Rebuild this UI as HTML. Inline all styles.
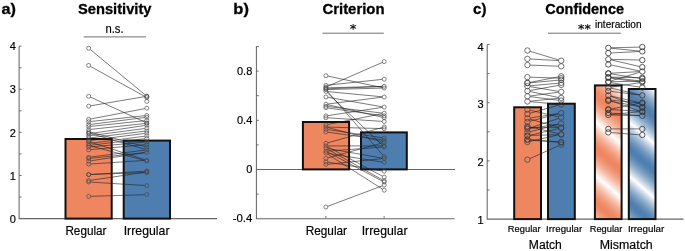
<!DOCTYPE html>
<html><head><meta charset="utf-8"><title>Figure</title>
<style>html,body{margin:0;padding:0;background:#fff;}svg{display:block;}</style></head>
<body>
<svg width="685" height="251" viewBox="0 0 685 251" font-family="'Liberation Sans', sans-serif">
<defs>
<linearGradient id="go" gradientUnits="userSpaceOnUse" x1="596.5" y1="149.2" x2="583.13" y2="164.57" spreadMethod="reflect"><stop offset="0.000" stop-color="#ee8660"/><stop offset="0.100" stop-color="#ee8964"/><stop offset="0.200" stop-color="#ef8f6c"/><stop offset="0.300" stop-color="#f09877"/><stop offset="0.400" stop-color="#f2a285"/><stop offset="0.500" stop-color="#f4ae94"/><stop offset="0.600" stop-color="#f6bba6"/><stop offset="0.700" stop-color="#f8caba"/><stop offset="0.800" stop-color="#fadbcf"/><stop offset="0.900" stop-color="#fcece6"/><stop offset="1.000" stop-color="#ffffff"/></linearGradient>
<linearGradient id="gb" gradientUnits="userSpaceOnUse" x1="629.8" y1="149.5" x2="616.43" y2="164.87" spreadMethod="reflect"><stop offset="0.000" stop-color="#4e7eaf"/><stop offset="0.100" stop-color="#5281b1"/><stop offset="0.200" stop-color="#5b88b5"/><stop offset="0.300" stop-color="#6891bb"/><stop offset="0.400" stop-color="#779cc1"/><stop offset="0.500" stop-color="#88a9c9"/><stop offset="0.600" stop-color="#9cb7d2"/><stop offset="0.700" stop-color="#b2c7dc"/><stop offset="0.800" stop-color="#cad8e7"/><stop offset="0.900" stop-color="#e4ebf3"/><stop offset="1.000" stop-color="#ffffff"/></linearGradient>
</defs>
<rect width="685" height="251" fill="#fff"/>
<text x="1.5" y="14.3" font-size="15.5" font-weight="bold" text-anchor="start" fill="#000" textLength="14.5" lengthAdjust="spacingAndGlyphs" stroke="#000" stroke-width="0.3">a)</text>
<text x="77.9" y="14.3" font-size="15" font-weight="bold" text-anchor="start" fill="#000" textLength="73.6" lengthAdjust="spacingAndGlyphs" stroke="#000" stroke-width="0.3">Sensitivity</text>
<text x="105.5" y="33.4" font-size="12.5" font-weight="normal" text-anchor="start" fill="#000" textLength="18.1" lengthAdjust="spacingAndGlyphs" stroke="#000" stroke-width="0.18">n.s.</text>
<line x1="83.7" y1="36.9" x2="146" y2="36.9" stroke="#707070" stroke-width="1"/>
<polyline points="19.1,46.2 19.1,218.6 217,218.6" fill="none" stroke="#666" stroke-width="1.05"/>
<line x1="19.1" y1="197.0" x2="21.6" y2="197.0" stroke="#555" stroke-width="0.8"/>
<line x1="19.1" y1="175.5" x2="21.6" y2="175.5" stroke="#555" stroke-width="0.8"/>
<line x1="19.1" y1="153.9" x2="21.6" y2="153.9" stroke="#555" stroke-width="0.8"/>
<line x1="19.1" y1="132.4" x2="21.6" y2="132.4" stroke="#555" stroke-width="0.8"/>
<line x1="19.1" y1="110.8" x2="21.6" y2="110.8" stroke="#555" stroke-width="0.8"/>
<line x1="19.1" y1="89.3" x2="21.6" y2="89.3" stroke="#555" stroke-width="0.8"/>
<line x1="19.1" y1="67.8" x2="21.6" y2="67.8" stroke="#555" stroke-width="0.8"/>
<line x1="19.1" y1="46.2" x2="21.6" y2="46.2" stroke="#555" stroke-width="0.8"/>
<text x="15.9" y="222.7" font-size="11" font-weight="normal" text-anchor="end" fill="#000" stroke="#000" stroke-width="0.18">0</text>
<text x="15.9" y="179.6" font-size="11" font-weight="normal" text-anchor="end" fill="#000" stroke="#000" stroke-width="0.18">1</text>
<text x="15.9" y="136.49999999999997" font-size="11" font-weight="normal" text-anchor="end" fill="#000" stroke="#000" stroke-width="0.18">2</text>
<text x="15.9" y="93.39999999999998" font-size="11" font-weight="normal" text-anchor="end" fill="#000" stroke="#000" stroke-width="0.18">3</text>
<text x="15.9" y="50.29999999999999" font-size="11" font-weight="normal" text-anchor="end" fill="#000" stroke="#000" stroke-width="0.18">4</text>
<rect x="65.50" y="139.00" width="46.20" height="79.60" fill="#EE8660" stroke="#111" stroke-width="2.0"/>
<rect x="123.70" y="140.60" width="46.30" height="78.00" fill="#4E7EAF" stroke="#111" stroke-width="2.0"/>
<line x1="90.2" y1="49.5" x2="145.3" y2="94.9" stroke="#222" stroke-width="0.6"/>
<line x1="90.4" y1="66.4" x2="145.1" y2="96.6" stroke="#222" stroke-width="0.6"/>
<line x1="90.5" y1="97.1" x2="145.0" y2="122.2" stroke="#222" stroke-width="0.6"/>
<line x1="90.7" y1="105.8" x2="144.8" y2="96.6" stroke="#222" stroke-width="0.6"/>
<line x1="90.7" y1="119.0" x2="144.8" y2="108.6" stroke="#222" stroke-width="0.6"/>
<line x1="90.7" y1="121.5" x2="144.8" y2="115.7" stroke="#222" stroke-width="0.6"/>
<line x1="90.7" y1="124.4" x2="144.8" y2="117.5" stroke="#222" stroke-width="0.6"/>
<line x1="90.7" y1="126.4" x2="144.8" y2="120.7" stroke="#222" stroke-width="0.6"/>
<line x1="90.7" y1="129.4" x2="144.8" y2="123.5" stroke="#222" stroke-width="0.6"/>
<line x1="90.7" y1="133.5" x2="144.8" y2="125.5" stroke="#222" stroke-width="0.6"/>
<line x1="90.7" y1="135.6" x2="144.8" y2="128.5" stroke="#222" stroke-width="0.6"/>
<line x1="90.7" y1="137.8" x2="144.8" y2="131.2" stroke="#222" stroke-width="0.6"/>
<line x1="90.7" y1="140.4" x2="144.8" y2="133.4" stroke="#222" stroke-width="0.6"/>
<line x1="90.7" y1="143.3" x2="144.8" y2="136.2" stroke="#222" stroke-width="0.6"/>
<line x1="90.7" y1="145.2" x2="144.8" y2="138.7" stroke="#222" stroke-width="0.6"/>
<line x1="90.7" y1="146.9" x2="144.8" y2="142.1" stroke="#222" stroke-width="0.6"/>
<line x1="90.7" y1="149.6" x2="144.8" y2="144.7" stroke="#222" stroke-width="0.6"/>
<line x1="90.6" y1="132.2" x2="144.9" y2="146.6" stroke="#222" stroke-width="0.6"/>
<line x1="90.6" y1="133.6" x2="144.9" y2="149.2" stroke="#222" stroke-width="0.6"/>
<line x1="90.7" y1="157.0" x2="144.8" y2="150.1" stroke="#222" stroke-width="0.6"/>
<line x1="90.7" y1="158.3" x2="144.8" y2="152.6" stroke="#222" stroke-width="0.6"/>
<line x1="90.7" y1="160.8" x2="144.8" y2="152.7" stroke="#222" stroke-width="0.6"/>
<line x1="90.7" y1="164.0" x2="144.8" y2="160.4" stroke="#222" stroke-width="0.6"/>
<line x1="90.6" y1="142.1" x2="144.9" y2="159.7" stroke="#222" stroke-width="0.6"/>
<line x1="90.6" y1="145.9" x2="144.9" y2="160.5" stroke="#222" stroke-width="0.6"/>
<line x1="90.7" y1="174.5" x2="144.8" y2="171.2" stroke="#222" stroke-width="0.6"/>
<line x1="90.7" y1="174.4" x2="144.8" y2="172.6" stroke="#222" stroke-width="0.6"/>
<line x1="90.7" y1="180.3" x2="144.8" y2="172.3" stroke="#222" stroke-width="0.6"/>
<line x1="90.7" y1="182.1" x2="144.8" y2="185.5" stroke="#222" stroke-width="0.6"/>
<line x1="90.7" y1="196.3" x2="144.8" y2="194.7" stroke="#222" stroke-width="0.6"/>
<circle cx="88.7" cy="48.2" r="2.0" fill="none" stroke="#444" stroke-width="0.65"/>
<circle cx="88.7" cy="65.4" r="2.0" fill="none" stroke="#444" stroke-width="0.65"/>
<circle cx="88.7" cy="96.3" r="2.0" fill="none" stroke="#444" stroke-width="0.65"/>
<circle cx="88.7" cy="106.1" r="2.0" fill="none" stroke="#444" stroke-width="0.65"/>
<circle cx="88.7" cy="119.4" r="2.0" fill="none" stroke="#444" stroke-width="0.65"/>
<circle cx="88.7" cy="121.7" r="2.0" fill="none" stroke="#444" stroke-width="0.65"/>
<circle cx="88.7" cy="124.6" r="2.0" fill="none" stroke="#444" stroke-width="0.65"/>
<circle cx="88.7" cy="126.6" r="2.0" fill="none" stroke="#444" stroke-width="0.65"/>
<circle cx="88.7" cy="129.6" r="2.0" fill="none" stroke="#444" stroke-width="0.65"/>
<circle cx="88.7" cy="131.7" r="2.0" fill="none" stroke="#444" stroke-width="0.65"/>
<circle cx="88.7" cy="133.0" r="2.0" fill="none" stroke="#444" stroke-width="0.65"/>
<circle cx="88.7" cy="133.8" r="2.0" fill="none" stroke="#444" stroke-width="0.65"/>
<circle cx="88.7" cy="135.9" r="2.0" fill="none" stroke="#444" stroke-width="0.65"/>
<circle cx="88.7" cy="138.0" r="2.0" fill="none" stroke="#444" stroke-width="0.65"/>
<circle cx="88.7" cy="140.7" r="2.0" fill="none" stroke="#444" stroke-width="0.65"/>
<circle cx="88.7" cy="141.5" r="2.0" fill="none" stroke="#444" stroke-width="0.65"/>
<circle cx="88.7" cy="143.6" r="2.0" fill="none" stroke="#444" stroke-width="0.65"/>
<circle cx="88.7" cy="145.4" r="2.0" fill="none" stroke="#444" stroke-width="0.65"/>
<circle cx="88.7" cy="147.1" r="2.0" fill="none" stroke="#444" stroke-width="0.65"/>
<circle cx="88.7" cy="149.8" r="2.0" fill="none" stroke="#444" stroke-width="0.65"/>
<circle cx="88.7" cy="157.3" r="2.0" fill="none" stroke="#444" stroke-width="0.65"/>
<circle cx="88.7" cy="158.5" r="2.0" fill="none" stroke="#444" stroke-width="0.65"/>
<circle cx="88.7" cy="161.1" r="2.0" fill="none" stroke="#444" stroke-width="0.65"/>
<circle cx="88.7" cy="164.1" r="2.0" fill="none" stroke="#444" stroke-width="0.65"/>
<circle cx="88.7" cy="174.5" r="2.0" fill="none" stroke="#444" stroke-width="0.65"/>
<circle cx="88.7" cy="174.6" r="2.0" fill="none" stroke="#444" stroke-width="0.65"/>
<circle cx="88.7" cy="180.6" r="2.0" fill="none" stroke="#444" stroke-width="0.65"/>
<circle cx="88.7" cy="182.0" r="2.0" fill="none" stroke="#444" stroke-width="0.65"/>
<circle cx="88.7" cy="196.4" r="2.0" fill="none" stroke="#444" stroke-width="0.65"/>
<circle cx="146.8" cy="96.2" r="2.0" fill="none" stroke="#444" stroke-width="0.65"/>
<circle cx="146.8" cy="96.3" r="2.0" fill="none" stroke="#444" stroke-width="0.65"/>
<circle cx="146.8" cy="97.6" r="2.0" fill="none" stroke="#444" stroke-width="0.65"/>
<circle cx="146.8" cy="108.2" r="2.0" fill="none" stroke="#444" stroke-width="0.65"/>
<circle cx="146.8" cy="115.5" r="2.0" fill="none" stroke="#444" stroke-width="0.65"/>
<circle cx="146.8" cy="117.3" r="2.0" fill="none" stroke="#444" stroke-width="0.65"/>
<circle cx="146.8" cy="120.5" r="2.0" fill="none" stroke="#444" stroke-width="0.65"/>
<circle cx="146.8" cy="123.0" r="2.0" fill="none" stroke="#444" stroke-width="0.65"/>
<circle cx="146.8" cy="123.3" r="2.0" fill="none" stroke="#444" stroke-width="0.65"/>
<circle cx="146.8" cy="125.2" r="2.0" fill="none" stroke="#444" stroke-width="0.65"/>
<circle cx="146.8" cy="128.2" r="2.0" fill="none" stroke="#444" stroke-width="0.65"/>
<circle cx="146.8" cy="131.0" r="2.0" fill="none" stroke="#444" stroke-width="0.65"/>
<circle cx="146.8" cy="133.1" r="2.0" fill="none" stroke="#444" stroke-width="0.65"/>
<circle cx="146.8" cy="135.9" r="2.0" fill="none" stroke="#444" stroke-width="0.65"/>
<circle cx="146.8" cy="138.5" r="2.0" fill="none" stroke="#444" stroke-width="0.65"/>
<circle cx="146.8" cy="141.9" r="2.0" fill="none" stroke="#444" stroke-width="0.65"/>
<circle cx="146.8" cy="144.5" r="2.0" fill="none" stroke="#444" stroke-width="0.65"/>
<circle cx="146.8" cy="147.1" r="2.0" fill="none" stroke="#444" stroke-width="0.65"/>
<circle cx="146.8" cy="149.8" r="2.0" fill="none" stroke="#444" stroke-width="0.65"/>
<circle cx="146.8" cy="152.4" r="2.0" fill="none" stroke="#444" stroke-width="0.65"/>
<circle cx="146.8" cy="160.3" r="2.0" fill="none" stroke="#444" stroke-width="0.65"/>
<circle cx="146.8" cy="161.0" r="2.0" fill="none" stroke="#444" stroke-width="0.65"/>
<circle cx="146.8" cy="171.1" r="2.0" fill="none" stroke="#444" stroke-width="0.65"/>
<circle cx="146.8" cy="172.0" r="2.0" fill="none" stroke="#444" stroke-width="0.65"/>
<circle cx="146.8" cy="172.5" r="2.0" fill="none" stroke="#444" stroke-width="0.65"/>
<circle cx="146.8" cy="185.6" r="2.0" fill="none" stroke="#444" stroke-width="0.65"/>
<circle cx="146.8" cy="194.6" r="2.0" fill="none" stroke="#444" stroke-width="0.65"/>
<circle cx="146.8" cy="101.4" r="2.0" fill="none" stroke="#444" stroke-width="0.65"/>
<text x="65.4" y="235" font-size="12.2" font-weight="normal" text-anchor="start" fill="#000" textLength="41.1" lengthAdjust="spacingAndGlyphs" stroke="#000" stroke-width="0.18">Regular</text>
<text x="123.7" y="235" font-size="12.2" font-weight="normal" text-anchor="start" fill="#000" textLength="45.8" lengthAdjust="spacingAndGlyphs" stroke="#000" stroke-width="0.18">Irregular</text>
<text x="233.3" y="14.1" font-size="15.5" font-weight="bold" text-anchor="start" fill="#000" textLength="15.6" lengthAdjust="spacingAndGlyphs" stroke="#000" stroke-width="0.3">b)</text>
<text x="322.5" y="14.1" font-size="15" font-weight="bold" text-anchor="start" fill="#000" textLength="62" lengthAdjust="spacingAndGlyphs" stroke="#000" stroke-width="0.3">Criterion</text>
<text x="353.0" y="33.0" font-size="12.5" font-weight="normal" text-anchor="middle" fill="#000" font-family="'DejaVu Sans', sans-serif" stroke="#000" stroke-width="0.18">*</text>
<line x1="322.5" y1="33.2" x2="383.8" y2="33.2" stroke="#707070" stroke-width="1"/>
<polyline points="256.4,46.5 256.4,218.8 454.5,218.8" fill="none" stroke="#666" stroke-width="1.05"/>
<line x1="256.4" y1="169.5" x2="455" y2="169.5" stroke="#666" stroke-width="1.05"/>
<line x1="256.4" y1="194.1" x2="258.9" y2="194.1" stroke="#555" stroke-width="0.8"/>
<line x1="256.4" y1="144.9" x2="258.9" y2="144.9" stroke="#555" stroke-width="0.8"/>
<line x1="256.4" y1="120.3" x2="258.9" y2="120.3" stroke="#555" stroke-width="0.8"/>
<line x1="256.4" y1="95.7" x2="258.9" y2="95.7" stroke="#555" stroke-width="0.8"/>
<line x1="256.4" y1="71.1" x2="258.9" y2="71.1" stroke="#555" stroke-width="0.8"/>
<line x1="256.4" y1="46.5" x2="258.9" y2="46.5" stroke="#555" stroke-width="0.8"/>
<line x1="325.9" y1="218.8" x2="325.9" y2="216" stroke="#666" stroke-width="0.8"/>
<line x1="384.1" y1="218.8" x2="384.1" y2="216" stroke="#666" stroke-width="0.8"/>
<text x="252.3" y="74.8" font-size="11" font-weight="normal" text-anchor="end" fill="#000" textLength="15.3" lengthAdjust="spacingAndGlyphs" stroke="#000" stroke-width="0.18">0.8</text>
<text x="252.3" y="124.0" font-size="11" font-weight="normal" text-anchor="end" fill="#000" textLength="15.3" lengthAdjust="spacingAndGlyphs" stroke="#000" stroke-width="0.18">0.4</text>
<text x="252.3" y="173.3" font-size="11" font-weight="normal" text-anchor="end" fill="#000" stroke="#000" stroke-width="0.18">0</text>
<text x="252.4" y="222.29999999999998" font-size="11" font-weight="normal" text-anchor="end" fill="#000" textLength="19.7" lengthAdjust="spacingAndGlyphs" stroke="#000" stroke-width="0.18">-0.4</text>
<rect x="302.90" y="122.00" width="46.20" height="47.40" fill="#EE8660" stroke="#111" stroke-width="2.0"/>
<rect x="361.00" y="132.40" width="45.80" height="37.00" fill="#4E7EAF" stroke="#111" stroke-width="2.0"/>
<line x1="327.9" y1="76.1" x2="382.2" y2="87.6" stroke="#222" stroke-width="0.6"/>
<line x1="327.7" y1="86.3" x2="382.4" y2="62.4" stroke="#222" stroke-width="0.6"/>
<line x1="327.9" y1="85.1" x2="382.2" y2="79.4" stroke="#222" stroke-width="0.6"/>
<line x1="327.9" y1="87.8" x2="382.2" y2="86.4" stroke="#222" stroke-width="0.6"/>
<line x1="327.9" y1="88.8" x2="382.2" y2="86.4" stroke="#222" stroke-width="0.6"/>
<line x1="327.9" y1="89.5" x2="382.2" y2="88.1" stroke="#222" stroke-width="0.6"/>
<line x1="327.9" y1="91.6" x2="382.2" y2="96.8" stroke="#222" stroke-width="0.6"/>
<line x1="327.2" y1="91.1" x2="382.9" y2="155.1" stroke="#222" stroke-width="0.6"/>
<line x1="327.3" y1="92.8" x2="382.8" y2="145.6" stroke="#222" stroke-width="0.6"/>
<line x1="327.9" y1="97.3" x2="382.2" y2="106.8" stroke="#222" stroke-width="0.6"/>
<line x1="327.9" y1="104.0" x2="382.2" y2="97.2" stroke="#222" stroke-width="0.6"/>
<line x1="327.9" y1="106.5" x2="382.2" y2="113.1" stroke="#222" stroke-width="0.6"/>
<line x1="327.9" y1="108.0" x2="382.2" y2="115.6" stroke="#222" stroke-width="0.6"/>
<line x1="327.8" y1="104.7" x2="382.3" y2="117.2" stroke="#222" stroke-width="0.6"/>
<line x1="327.9" y1="115.6" x2="382.2" y2="107.4" stroke="#222" stroke-width="0.6"/>
<line x1="327.9" y1="117.8" x2="382.2" y2="121.4" stroke="#222" stroke-width="0.6"/>
<line x1="327.9" y1="124.5" x2="382.2" y2="113.7" stroke="#222" stroke-width="0.6"/>
<line x1="327.9" y1="127.1" x2="382.2" y2="128.6" stroke="#222" stroke-width="0.6"/>
<line x1="327.9" y1="129.6" x2="382.2" y2="137.7" stroke="#222" stroke-width="0.6"/>
<line x1="327.9" y1="132.2" x2="382.2" y2="139.8" stroke="#222" stroke-width="0.6"/>
<line x1="327.8" y1="127.5" x2="382.3" y2="141.9" stroke="#222" stroke-width="0.6"/>
<line x1="327.8" y1="142.8" x2="382.3" y2="127.5" stroke="#222" stroke-width="0.6"/>
<line x1="327.9" y1="145.9" x2="382.2" y2="145.9" stroke="#222" stroke-width="0.6"/>
<line x1="327.9" y1="148.5" x2="382.2" y2="158.1" stroke="#222" stroke-width="0.6"/>
<line x1="327.9" y1="151.1" x2="382.2" y2="147.1" stroke="#222" stroke-width="0.6"/>
<line x1="327.9" y1="153.4" x2="382.2" y2="162.1" stroke="#222" stroke-width="0.6"/>
<line x1="327.8" y1="157.9" x2="382.3" y2="142.9" stroke="#222" stroke-width="0.6"/>
<line x1="327.9" y1="162.2" x2="382.2" y2="170.9" stroke="#222" stroke-width="0.6"/>
<line x1="327.9" y1="164.3" x2="382.2" y2="158.6" stroke="#222" stroke-width="0.6"/>
<line x1="327.7" y1="146.8" x2="382.4" y2="176.2" stroke="#222" stroke-width="0.6"/>
<line x1="327.6" y1="149.2" x2="382.5" y2="179.9" stroke="#222" stroke-width="0.6"/>
<line x1="327.7" y1="152.1" x2="382.4" y2="181.1" stroke="#222" stroke-width="0.6"/>
<line x1="327.6" y1="154.2" x2="382.5" y2="189.1" stroke="#222" stroke-width="0.6"/>
<line x1="327.8" y1="206.3" x2="382.3" y2="185.8" stroke="#222" stroke-width="0.6"/>
<circle cx="325.9" cy="75.7" r="2.0" fill="none" stroke="#444" stroke-width="0.65"/>
<circle cx="325.9" cy="85.3" r="2.0" fill="none" stroke="#444" stroke-width="0.65"/>
<circle cx="325.9" cy="87.1" r="2.0" fill="none" stroke="#444" stroke-width="0.65"/>
<circle cx="325.9" cy="87.9" r="2.0" fill="none" stroke="#444" stroke-width="0.65"/>
<circle cx="325.9" cy="88.9" r="2.0" fill="none" stroke="#444" stroke-width="0.65"/>
<circle cx="325.9" cy="89.6" r="2.0" fill="none" stroke="#444" stroke-width="0.65"/>
<circle cx="325.9" cy="91.4" r="2.0" fill="none" stroke="#444" stroke-width="0.65"/>
<circle cx="325.9" cy="97.0" r="2.0" fill="none" stroke="#444" stroke-width="0.65"/>
<circle cx="325.9" cy="104.2" r="2.0" fill="none" stroke="#444" stroke-width="0.65"/>
<circle cx="325.9" cy="106.3" r="2.0" fill="none" stroke="#444" stroke-width="0.65"/>
<circle cx="325.9" cy="107.7" r="2.0" fill="none" stroke="#444" stroke-width="0.65"/>
<circle cx="325.9" cy="115.9" r="2.0" fill="none" stroke="#444" stroke-width="0.65"/>
<circle cx="325.9" cy="117.7" r="2.0" fill="none" stroke="#444" stroke-width="0.65"/>
<circle cx="325.9" cy="124.9" r="2.0" fill="none" stroke="#444" stroke-width="0.65"/>
<circle cx="325.9" cy="127.0" r="2.0" fill="none" stroke="#444" stroke-width="0.65"/>
<circle cx="325.9" cy="129.3" r="2.0" fill="none" stroke="#444" stroke-width="0.65"/>
<circle cx="325.9" cy="131.9" r="2.0" fill="none" stroke="#444" stroke-width="0.65"/>
<circle cx="325.9" cy="143.3" r="2.0" fill="none" stroke="#444" stroke-width="0.65"/>
<circle cx="325.9" cy="145.9" r="2.0" fill="none" stroke="#444" stroke-width="0.65"/>
<circle cx="325.9" cy="148.2" r="2.0" fill="none" stroke="#444" stroke-width="0.65"/>
<circle cx="325.9" cy="151.2" r="2.0" fill="none" stroke="#444" stroke-width="0.65"/>
<circle cx="325.9" cy="153.1" r="2.0" fill="none" stroke="#444" stroke-width="0.65"/>
<circle cx="325.9" cy="158.4" r="2.0" fill="none" stroke="#444" stroke-width="0.65"/>
<circle cx="325.9" cy="161.9" r="2.0" fill="none" stroke="#444" stroke-width="0.65"/>
<circle cx="325.9" cy="164.5" r="2.0" fill="none" stroke="#444" stroke-width="0.65"/>
<circle cx="325.9" cy="207.0" r="2.0" fill="none" stroke="#444" stroke-width="0.65"/>
<circle cx="384.2" cy="61.6" r="2.0" fill="none" stroke="#444" stroke-width="0.65"/>
<circle cx="384.2" cy="79.2" r="2.0" fill="none" stroke="#444" stroke-width="0.65"/>
<circle cx="384.2" cy="86.3" r="2.0" fill="none" stroke="#444" stroke-width="0.65"/>
<circle cx="384.2" cy="88.0" r="2.0" fill="none" stroke="#444" stroke-width="0.65"/>
<circle cx="384.2" cy="97.0" r="2.0" fill="none" stroke="#444" stroke-width="0.65"/>
<circle cx="384.2" cy="107.1" r="2.0" fill="none" stroke="#444" stroke-width="0.65"/>
<circle cx="384.2" cy="113.3" r="2.0" fill="none" stroke="#444" stroke-width="0.65"/>
<circle cx="384.2" cy="115.9" r="2.0" fill="none" stroke="#444" stroke-width="0.65"/>
<circle cx="384.2" cy="117.7" r="2.0" fill="none" stroke="#444" stroke-width="0.65"/>
<circle cx="384.2" cy="121.5" r="2.0" fill="none" stroke="#444" stroke-width="0.65"/>
<circle cx="384.2" cy="127.0" r="2.0" fill="none" stroke="#444" stroke-width="0.65"/>
<circle cx="384.2" cy="128.7" r="2.0" fill="none" stroke="#444" stroke-width="0.65"/>
<circle cx="384.2" cy="138.0" r="2.0" fill="none" stroke="#444" stroke-width="0.65"/>
<circle cx="384.2" cy="140.1" r="2.0" fill="none" stroke="#444" stroke-width="0.65"/>
<circle cx="384.2" cy="142.4" r="2.0" fill="none" stroke="#444" stroke-width="0.65"/>
<circle cx="384.2" cy="145.9" r="2.0" fill="none" stroke="#444" stroke-width="0.65"/>
<circle cx="384.2" cy="147.0" r="2.0" fill="none" stroke="#444" stroke-width="0.65"/>
<circle cx="384.2" cy="156.6" r="2.0" fill="none" stroke="#444" stroke-width="0.65"/>
<circle cx="384.2" cy="158.4" r="2.0" fill="none" stroke="#444" stroke-width="0.65"/>
<circle cx="384.2" cy="162.4" r="2.0" fill="none" stroke="#444" stroke-width="0.65"/>
<circle cx="384.2" cy="171.2" r="2.0" fill="none" stroke="#444" stroke-width="0.65"/>
<circle cx="384.2" cy="177.1" r="2.0" fill="none" stroke="#444" stroke-width="0.65"/>
<circle cx="384.2" cy="180.9" r="2.0" fill="none" stroke="#444" stroke-width="0.65"/>
<circle cx="384.2" cy="182.0" r="2.0" fill="none" stroke="#444" stroke-width="0.65"/>
<circle cx="384.2" cy="185.1" r="2.0" fill="none" stroke="#444" stroke-width="0.65"/>
<circle cx="384.2" cy="190.2" r="2.0" fill="none" stroke="#444" stroke-width="0.65"/>
<text x="305.7" y="235" font-size="12.2" font-weight="normal" text-anchor="start" fill="#000" textLength="41.3" lengthAdjust="spacingAndGlyphs" stroke="#000" stroke-width="0.18">Regular</text>
<text x="361.7" y="235" font-size="12.2" font-weight="normal" text-anchor="start" fill="#000" textLength="45.8" lengthAdjust="spacingAndGlyphs" stroke="#000" stroke-width="0.18">Irregular</text>
<text x="473.1" y="14.1" font-size="15.5" font-weight="bold" text-anchor="start" fill="#000" textLength="13.3" lengthAdjust="spacingAndGlyphs" stroke="#000" stroke-width="0.3">c)</text>
<text x="545.3" y="14.2" font-size="15" font-weight="bold" text-anchor="start" fill="#000" textLength="78.7" lengthAdjust="spacingAndGlyphs" stroke="#000" stroke-width="0.3">Confidence</text>
<text x="578.1" y="32.6" font-size="12.5" font-weight="normal" text-anchor="start" fill="#000" textLength="12.7" lengthAdjust="spacingAndGlyphs" font-family="'DejaVu Sans', sans-serif" stroke="#000" stroke-width="0.18">**</text>
<text x="595" y="28.2" font-size="10.2" font-weight="normal" text-anchor="start" fill="#000" textLength="46.6" lengthAdjust="spacingAndGlyphs" stroke="#000" stroke-width="0.18">interaction</text>
<line x1="548" y1="33.2" x2="620.9" y2="33.2" stroke="#707070" stroke-width="1"/>
<polyline points="487.2,44.5 487.2,219.1 683.5,219.1" fill="none" stroke="#666" stroke-width="1.05"/>
<line x1="487.2" y1="190.0" x2="489.7" y2="190.0" stroke="#555" stroke-width="0.8"/>
<line x1="487.2" y1="160.9" x2="489.7" y2="160.9" stroke="#555" stroke-width="0.8"/>
<line x1="487.2" y1="131.8" x2="489.7" y2="131.8" stroke="#555" stroke-width="0.8"/>
<line x1="487.2" y1="102.7" x2="489.7" y2="102.7" stroke="#555" stroke-width="0.8"/>
<line x1="487.2" y1="73.6" x2="489.7" y2="73.6" stroke="#555" stroke-width="0.8"/>
<line x1="487.2" y1="44.5" x2="489.7" y2="44.5" stroke="#555" stroke-width="0.8"/>
<text x="483.6" y="50.5" font-size="11" font-weight="normal" text-anchor="end" fill="#000" stroke="#000" stroke-width="0.18">4</text>
<text x="483.6" y="108.10000000000001" font-size="11" font-weight="normal" text-anchor="end" fill="#000" stroke="#000" stroke-width="0.18">3</text>
<text x="483.6" y="165.70000000000002" font-size="11" font-weight="normal" text-anchor="end" fill="#000" stroke="#000" stroke-width="0.18">2</text>
<text x="483.6" y="223.6" font-size="11" font-weight="normal" text-anchor="end" fill="#000" stroke="#000" stroke-width="0.18">1</text>
<rect x="514.20" y="107.30" width="26.80" height="111.80" fill="#EE8660" stroke="#111" stroke-width="2.0"/>
<rect x="548.00" y="103.70" width="26.80" height="115.40" fill="#4E7EAF" stroke="#111" stroke-width="2.0"/>
<rect x="594.90" y="85.40" width="26.70" height="133.70" fill="url(#go)" stroke="#111" stroke-width="2.0"/>
<rect x="628.80" y="89.00" width="26.70" height="130.10" fill="url(#gb)" stroke="#111" stroke-width="2.0"/>
<line x1="530.0" y1="51.3" x2="558.6" y2="59.9" stroke="#222" stroke-width="0.6"/>
<line x1="530.1" y1="59.0" x2="558.5" y2="60.6" stroke="#222" stroke-width="0.6"/>
<line x1="530.1" y1="65.1" x2="558.5" y2="66.2" stroke="#222" stroke-width="0.6"/>
<line x1="530.1" y1="77.2" x2="558.5" y2="78.1" stroke="#222" stroke-width="0.6"/>
<line x1="530.0" y1="82.4" x2="558.6" y2="76.8" stroke="#222" stroke-width="0.6"/>
<line x1="530.1" y1="82.8" x2="558.5" y2="80.2" stroke="#222" stroke-width="0.6"/>
<line x1="530.1" y1="85.8" x2="558.5" y2="83.2" stroke="#222" stroke-width="0.6"/>
<line x1="530.1" y1="90.5" x2="558.5" y2="85.4" stroke="#222" stroke-width="0.6"/>
<line x1="530.1" y1="86.6" x2="558.5" y2="91.4" stroke="#222" stroke-width="0.6"/>
<line x1="530.1" y1="96.0" x2="558.5" y2="92.2" stroke="#222" stroke-width="0.6"/>
<line x1="530.0" y1="91.5" x2="558.6" y2="97.5" stroke="#222" stroke-width="0.6"/>
<line x1="530.1" y1="101.2" x2="558.5" y2="98.3" stroke="#222" stroke-width="0.6"/>
<line x1="530.1" y1="96.6" x2="558.5" y2="100.3" stroke="#222" stroke-width="0.6"/>
<line x1="530.1" y1="101.7" x2="558.5" y2="104.2" stroke="#222" stroke-width="0.6"/>
<line x1="530.0" y1="110.2" x2="558.6" y2="116.9" stroke="#222" stroke-width="0.6"/>
<line x1="530.0" y1="113.3" x2="558.6" y2="105.1" stroke="#222" stroke-width="0.6"/>
<line x1="530.0" y1="119.1" x2="558.6" y2="127.3" stroke="#222" stroke-width="0.6"/>
<line x1="530.1" y1="118.0" x2="558.5" y2="113.5" stroke="#222" stroke-width="0.6"/>
<line x1="530.0" y1="121.2" x2="558.6" y2="113.8" stroke="#222" stroke-width="0.6"/>
<line x1="530.0" y1="126.9" x2="558.6" y2="133.6" stroke="#222" stroke-width="0.6"/>
<line x1="530.0" y1="128.0" x2="558.6" y2="118.4" stroke="#222" stroke-width="0.6"/>
<line x1="530.1" y1="128.5" x2="558.5" y2="124.0" stroke="#222" stroke-width="0.6"/>
<line x1="530.0" y1="131.7" x2="558.6" y2="124.3" stroke="#222" stroke-width="0.6"/>
<line x1="530.0" y1="135.3" x2="558.6" y2="128.6" stroke="#222" stroke-width="0.6"/>
<line x1="530.1" y1="139.6" x2="558.5" y2="141.8" stroke="#222" stroke-width="0.6"/>
<line x1="530.0" y1="141.4" x2="558.6" y2="134.8" stroke="#222" stroke-width="0.6"/>
<line x1="530.1" y1="140.1" x2="558.5" y2="142.3" stroke="#222" stroke-width="0.6"/>
<line x1="530.1" y1="127.6" x2="558.5" y2="127.6" stroke="#222" stroke-width="0.6"/>
<line x1="530.1" y1="135.4" x2="558.5" y2="134.7" stroke="#222" stroke-width="0.6"/>
<line x1="529.9" y1="158.6" x2="558.7" y2="145.7" stroke="#222" stroke-width="0.6"/>
<circle cx="527.4" cy="50.5" r="2.7" fill="none" stroke="#3a3a3a" stroke-width="0.7"/>
<circle cx="527.4" cy="58.9" r="2.7" fill="none" stroke="#3a3a3a" stroke-width="0.7"/>
<circle cx="527.4" cy="65.0" r="2.7" fill="none" stroke="#3a3a3a" stroke-width="0.7"/>
<circle cx="527.4" cy="77.1" r="2.7" fill="none" stroke="#3a3a3a" stroke-width="0.7"/>
<circle cx="527.4" cy="82.9" r="2.7" fill="none" stroke="#3a3a3a" stroke-width="0.7"/>
<circle cx="527.4" cy="83.1" r="2.7" fill="none" stroke="#3a3a3a" stroke-width="0.7"/>
<circle cx="527.4" cy="86.1" r="2.7" fill="none" stroke="#3a3a3a" stroke-width="0.7"/>
<circle cx="527.4" cy="91.0" r="2.7" fill="none" stroke="#3a3a3a" stroke-width="0.7"/>
<circle cx="527.4" cy="96.3" r="2.7" fill="none" stroke="#3a3a3a" stroke-width="0.7"/>
<circle cx="527.4" cy="101.5" r="2.7" fill="none" stroke="#3a3a3a" stroke-width="0.7"/>
<circle cx="527.4" cy="109.6" r="2.7" fill="none" stroke="#3a3a3a" stroke-width="0.7"/>
<circle cx="527.4" cy="114.0" r="2.7" fill="none" stroke="#3a3a3a" stroke-width="0.7"/>
<circle cx="527.4" cy="118.4" r="2.7" fill="none" stroke="#3a3a3a" stroke-width="0.7"/>
<circle cx="527.4" cy="121.9" r="2.7" fill="none" stroke="#3a3a3a" stroke-width="0.7"/>
<circle cx="527.4" cy="126.3" r="2.7" fill="none" stroke="#3a3a3a" stroke-width="0.7"/>
<circle cx="527.4" cy="127.6" r="2.7" fill="none" stroke="#3a3a3a" stroke-width="0.7"/>
<circle cx="527.4" cy="128.9" r="2.7" fill="none" stroke="#3a3a3a" stroke-width="0.7"/>
<circle cx="527.4" cy="132.4" r="2.7" fill="none" stroke="#3a3a3a" stroke-width="0.7"/>
<circle cx="527.4" cy="135.5" r="2.7" fill="none" stroke="#3a3a3a" stroke-width="0.7"/>
<circle cx="527.4" cy="135.9" r="2.7" fill="none" stroke="#3a3a3a" stroke-width="0.7"/>
<circle cx="527.4" cy="139.4" r="2.7" fill="none" stroke="#3a3a3a" stroke-width="0.7"/>
<circle cx="527.4" cy="139.9" r="2.7" fill="none" stroke="#3a3a3a" stroke-width="0.7"/>
<circle cx="527.4" cy="142.0" r="2.7" fill="none" stroke="#3a3a3a" stroke-width="0.7"/>
<circle cx="527.4" cy="159.7" r="2.7" fill="none" stroke="#3a3a3a" stroke-width="0.7"/>
<circle cx="561.2" cy="60.7" r="2.7" fill="none" stroke="#3a3a3a" stroke-width="0.7"/>
<circle cx="561.2" cy="66.3" r="2.7" fill="none" stroke="#3a3a3a" stroke-width="0.7"/>
<circle cx="561.2" cy="76.3" r="2.7" fill="none" stroke="#3a3a3a" stroke-width="0.7"/>
<circle cx="561.2" cy="78.2" r="2.7" fill="none" stroke="#3a3a3a" stroke-width="0.7"/>
<circle cx="561.2" cy="79.9" r="2.7" fill="none" stroke="#3a3a3a" stroke-width="0.7"/>
<circle cx="561.2" cy="82.9" r="2.7" fill="none" stroke="#3a3a3a" stroke-width="0.7"/>
<circle cx="561.2" cy="84.9" r="2.7" fill="none" stroke="#3a3a3a" stroke-width="0.7"/>
<circle cx="561.2" cy="91.9" r="2.7" fill="none" stroke="#3a3a3a" stroke-width="0.7"/>
<circle cx="561.2" cy="98.0" r="2.7" fill="none" stroke="#3a3a3a" stroke-width="0.7"/>
<circle cx="561.2" cy="100.6" r="2.7" fill="none" stroke="#3a3a3a" stroke-width="0.7"/>
<circle cx="561.2" cy="104.4" r="2.7" fill="none" stroke="#3a3a3a" stroke-width="0.7"/>
<circle cx="561.2" cy="113.1" r="2.7" fill="none" stroke="#3a3a3a" stroke-width="0.7"/>
<circle cx="561.2" cy="117.5" r="2.7" fill="none" stroke="#3a3a3a" stroke-width="0.7"/>
<circle cx="561.2" cy="123.6" r="2.7" fill="none" stroke="#3a3a3a" stroke-width="0.7"/>
<circle cx="561.2" cy="127.6" r="2.7" fill="none" stroke="#3a3a3a" stroke-width="0.7"/>
<circle cx="561.2" cy="128.0" r="2.7" fill="none" stroke="#3a3a3a" stroke-width="0.7"/>
<circle cx="561.2" cy="134.2" r="2.7" fill="none" stroke="#3a3a3a" stroke-width="0.7"/>
<circle cx="561.2" cy="134.6" r="2.7" fill="none" stroke="#3a3a3a" stroke-width="0.7"/>
<circle cx="561.2" cy="142.0" r="2.7" fill="none" stroke="#3a3a3a" stroke-width="0.7"/>
<circle cx="561.2" cy="142.5" r="2.7" fill="none" stroke="#3a3a3a" stroke-width="0.7"/>
<circle cx="561.2" cy="144.6" r="2.7" fill="none" stroke="#3a3a3a" stroke-width="0.7"/>
<line x1="611.0" y1="47.8" x2="639.6" y2="47.1" stroke="#222" stroke-width="0.6"/>
<line x1="611.0" y1="48.2" x2="639.6" y2="51.1" stroke="#222" stroke-width="0.6"/>
<line x1="611.0" y1="53.0" x2="639.6" y2="51.5" stroke="#222" stroke-width="0.6"/>
<line x1="611.0" y1="59.4" x2="639.6" y2="60.0" stroke="#222" stroke-width="0.6"/>
<line x1="610.9" y1="59.9" x2="639.7" y2="66.5" stroke="#222" stroke-width="0.6"/>
<line x1="610.9" y1="65.0" x2="639.7" y2="71.0" stroke="#222" stroke-width="0.6"/>
<line x1="611.0" y1="73.2" x2="639.6" y2="71.6" stroke="#222" stroke-width="0.6"/>
<line x1="610.9" y1="80.9" x2="639.7" y2="72.3" stroke="#222" stroke-width="0.6"/>
<line x1="611.0" y1="77.1" x2="639.6" y2="77.7" stroke="#222" stroke-width="0.6"/>
<line x1="611.0" y1="77.4" x2="639.6" y2="80.9" stroke="#222" stroke-width="0.6"/>
<line x1="611.0" y1="81.7" x2="639.6" y2="81.2" stroke="#222" stroke-width="0.6"/>
<line x1="611.0" y1="73.9" x2="639.6" y2="78.4" stroke="#222" stroke-width="0.6"/>
<line x1="611.0" y1="78.2" x2="639.6" y2="82.0" stroke="#222" stroke-width="0.6"/>
<line x1="611.0" y1="82.7" x2="639.6" y2="87.1" stroke="#222" stroke-width="0.6"/>
<line x1="611.0" y1="87.1" x2="639.6" y2="82.7" stroke="#222" stroke-width="0.6"/>
<line x1="610.9" y1="88.1" x2="639.7" y2="94.8" stroke="#222" stroke-width="0.6"/>
<line x1="611.0" y1="91.3" x2="639.6" y2="95.1" stroke="#222" stroke-width="0.6"/>
<line x1="610.9" y1="96.0" x2="639.7" y2="102.7" stroke="#222" stroke-width="0.6"/>
<line x1="611.0" y1="100.1" x2="639.6" y2="103.0" stroke="#222" stroke-width="0.6"/>
<line x1="610.8" y1="96.3" x2="639.8" y2="106.8" stroke="#222" stroke-width="0.6"/>
<line x1="610.8" y1="100.7" x2="639.8" y2="111.1" stroke="#222" stroke-width="0.6"/>
<line x1="611.0" y1="101.4" x2="639.6" y2="106.5" stroke="#222" stroke-width="0.6"/>
<line x1="610.9" y1="109.1" x2="639.7" y2="103.1" stroke="#222" stroke-width="0.6"/>
<line x1="611.0" y1="109.6" x2="639.6" y2="111.2" stroke="#222" stroke-width="0.6"/>
<line x1="611.0" y1="113.1" x2="639.6" y2="115.6" stroke="#222" stroke-width="0.6"/>
<line x1="611.0" y1="115.0" x2="639.6" y2="115.7" stroke="#222" stroke-width="0.6"/>
<line x1="611.0" y1="114.6" x2="639.6" y2="111.7" stroke="#222" stroke-width="0.6"/>
<line x1="611.0" y1="128.9" x2="639.6" y2="128.9" stroke="#222" stroke-width="0.6"/>
<line x1="611.0" y1="132.6" x2="639.6" y2="134.8" stroke="#222" stroke-width="0.6"/>
<circle cx="608.3" cy="47.9" r="2.7" fill="none" stroke="#333" stroke-width="0.8"/>
<circle cx="608.3" cy="53.1" r="2.7" fill="none" stroke="#333" stroke-width="0.8"/>
<circle cx="608.3" cy="59.3" r="2.7" fill="none" stroke="#333" stroke-width="0.8"/>
<circle cx="608.3" cy="64.5" r="2.7" fill="none" stroke="#333" stroke-width="0.8"/>
<circle cx="608.3" cy="73.3" r="2.7" fill="none" stroke="#333" stroke-width="0.8"/>
<circle cx="608.3" cy="73.5" r="2.7" fill="none" stroke="#333" stroke-width="0.8"/>
<circle cx="608.3" cy="77.1" r="2.7" fill="none" stroke="#333" stroke-width="0.8"/>
<circle cx="608.3" cy="77.9" r="2.7" fill="none" stroke="#333" stroke-width="0.8"/>
<circle cx="608.3" cy="81.7" r="2.7" fill="none" stroke="#333" stroke-width="0.8"/>
<circle cx="608.3" cy="82.3" r="2.7" fill="none" stroke="#333" stroke-width="0.8"/>
<circle cx="608.3" cy="87.5" r="2.7" fill="none" stroke="#333" stroke-width="0.8"/>
<circle cx="608.3" cy="91.0" r="2.7" fill="none" stroke="#333" stroke-width="0.8"/>
<circle cx="608.3" cy="95.4" r="2.7" fill="none" stroke="#333" stroke-width="0.8"/>
<circle cx="608.3" cy="99.8" r="2.7" fill="none" stroke="#333" stroke-width="0.8"/>
<circle cx="608.3" cy="100.9" r="2.7" fill="none" stroke="#333" stroke-width="0.8"/>
<circle cx="608.3" cy="109.4" r="2.7" fill="none" stroke="#333" stroke-width="0.8"/>
<circle cx="608.3" cy="109.6" r="2.7" fill="none" stroke="#333" stroke-width="0.8"/>
<circle cx="608.3" cy="112.9" r="2.7" fill="none" stroke="#333" stroke-width="0.8"/>
<circle cx="608.3" cy="114.9" r="2.7" fill="none" stroke="#333" stroke-width="0.8"/>
<circle cx="608.3" cy="128.9" r="2.7" fill="none" stroke="#333" stroke-width="0.8"/>
<circle cx="608.3" cy="132.4" r="2.7" fill="none" stroke="#333" stroke-width="0.8"/>
<circle cx="642.3" cy="47.0" r="2.7" fill="none" stroke="#333" stroke-width="0.8"/>
<circle cx="642.3" cy="51.4" r="2.7" fill="none" stroke="#333" stroke-width="0.8"/>
<circle cx="642.3" cy="60.1" r="2.7" fill="none" stroke="#333" stroke-width="0.8"/>
<circle cx="642.3" cy="67.1" r="2.7" fill="none" stroke="#333" stroke-width="0.8"/>
<circle cx="642.3" cy="71.5" r="2.7" fill="none" stroke="#333" stroke-width="0.8"/>
<circle cx="642.3" cy="77.7" r="2.7" fill="none" stroke="#333" stroke-width="0.8"/>
<circle cx="642.3" cy="78.8" r="2.7" fill="none" stroke="#333" stroke-width="0.8"/>
<circle cx="642.3" cy="81.2" r="2.7" fill="none" stroke="#333" stroke-width="0.8"/>
<circle cx="642.3" cy="82.3" r="2.7" fill="none" stroke="#333" stroke-width="0.8"/>
<circle cx="642.3" cy="87.5" r="2.7" fill="none" stroke="#333" stroke-width="0.8"/>
<circle cx="642.3" cy="95.4" r="2.7" fill="none" stroke="#333" stroke-width="0.8"/>
<circle cx="642.3" cy="102.6" r="2.7" fill="none" stroke="#333" stroke-width="0.8"/>
<circle cx="642.3" cy="103.3" r="2.7" fill="none" stroke="#333" stroke-width="0.8"/>
<circle cx="642.3" cy="107.0" r="2.7" fill="none" stroke="#333" stroke-width="0.8"/>
<circle cx="642.3" cy="107.7" r="2.7" fill="none" stroke="#333" stroke-width="0.8"/>
<circle cx="642.3" cy="111.4" r="2.7" fill="none" stroke="#333" stroke-width="0.8"/>
<circle cx="642.3" cy="112.0" r="2.7" fill="none" stroke="#333" stroke-width="0.8"/>
<circle cx="642.3" cy="115.8" r="2.7" fill="none" stroke="#333" stroke-width="0.8"/>
<circle cx="642.3" cy="128.9" r="2.7" fill="none" stroke="#333" stroke-width="0.8"/>
<circle cx="642.3" cy="135.0" r="2.7" fill="none" stroke="#333" stroke-width="0.8"/>
<text x="507.8" y="232.1" font-size="9.6" font-weight="normal" text-anchor="start" fill="#000" textLength="32.8" lengthAdjust="spacingAndGlyphs" stroke="#000" stroke-width="0.18">Regular</text>
<text x="546.1" y="232.1" font-size="9.6" font-weight="normal" text-anchor="start" fill="#000" textLength="36.1" lengthAdjust="spacingAndGlyphs" stroke="#000" stroke-width="0.18">Irregular</text>
<text x="589.7" y="232.1" font-size="9.6" font-weight="normal" text-anchor="start" fill="#000" textLength="32.6" lengthAdjust="spacingAndGlyphs" stroke="#000" stroke-width="0.18">Regular</text>
<text x="627.9" y="232.1" font-size="9.6" font-weight="normal" text-anchor="start" fill="#000" textLength="36.4" lengthAdjust="spacingAndGlyphs" stroke="#000" stroke-width="0.18">Irregular</text>
<text x="528.8" y="248.8" font-size="12" font-weight="normal" text-anchor="start" fill="#000" textLength="33" lengthAdjust="spacingAndGlyphs" stroke="#000" stroke-width="0.18">Match</text>
<text x="599.8" y="248.8" font-size="12" font-weight="normal" text-anchor="start" fill="#000" textLength="52.9" lengthAdjust="spacingAndGlyphs" stroke="#000" stroke-width="0.18">Mismatch</text>
</svg>
</body></html>
